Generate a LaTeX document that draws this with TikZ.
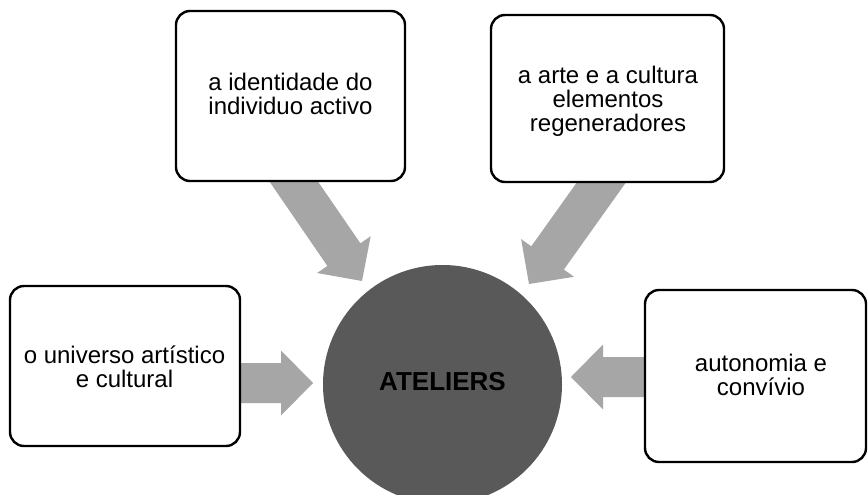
\documentclass[tikz,border=0pt]{standalone}
\usepackage{fontspec}
\setmainfont{Liberation Sans}
\usetikzlibrary{calc}
\definecolor{arrowgray}{HTML}{A6A6A6}
\definecolor{circgray}{HTML}{595959}
\newcommand\blockarrow[3]{%
  \coordinate (#3b) at ($(#2)!32pt!(#1)$);
  \fill[arrowfill] ($(#1)!20pt!90:(#2)$) -- ($(#3b)!20pt!90:(#2)$) --
    ($(#3b)!32.5pt!90:(#2)$) -- (#2) -- ($(#3b)!32.5pt!-90:(#2)$) --
    ($(#3b)!20pt!-90:(#2)$) -- ($(#1)!20pt!-90:(#2)$) -- cycle;}
\begin{document}
\begin{tikzpicture}[x=1pt,y=-1pt,
  arrowfill/.style={fill=arrowgray},
  box/.style={draw=black, line width=2.4pt, rounded corners=14pt, fill=white, inner sep=0pt},
  boxtext/.style={anchor=north, align=center, inner sep=0pt, font=\fontsize{24}{24}\selectfont},
  hub/.style={circle, fill=circgray, draw=none, inner sep=0pt, minimum size=239pt}]
\useasboundingbox (0,0) rectangle (868,495);
\fill[white] (0,0) rectangle (868,495);
% circle
\node[hub] (hub) at (442.5,384.5) {};
\node[anchor=base, inner sep=0pt, font=\fontsize{26}{26}\selectfont\bfseries] (hubtext) at (442.5,390) {ATELIERS};
% arrow end points
\coordinate (s1) at (282.7,165.5); \coordinate (t1) at (362,281);
\coordinate (s2) at (612.6,166.7); \coordinate (t2) at (529,284);
\coordinate (s3) at (225,383);     \coordinate (t3) at (313,383);
\coordinate (s4) at (660,377);     \coordinate (t4) at (571,377);
\blockarrow{s1}{t1}{a1}
\blockarrow{s2}{t2}{a2}
\blockarrow{s3}{t3}{a3}
\blockarrow{s4}{t4}{a4}
% boxes
\node[box, minimum width=229pt, minimum height=170pt] (tl) at (290.5,96) {};
\node[box, minimum width=233pt, minimum height=167pt] (tr) at (607.5,98.5) {};
\node[box, minimum width=230pt, minimum height=160pt] (lb) at (125,366) {};
\node[box, minimum width=221pt, minimum height=172pt] (rb) at (755.5,376) {};
% texts
\node[boxtext] (tltext) at (290.5,70.7) {\rule{0pt}{20pt}a identidade do\\individuo activo};
\node[boxtext] (trtext) at (608,63) {\rule{0pt}{20pt}a arte e a cultura\\elementos\\regeneradores};
\node[boxtext] (lbtext) at (124.5,343.3) {\rule{0pt}{20pt}o universo artístico\\e cultural};
\node[boxtext] (rbtext) at (761,351) {\rule{0pt}{20pt}autonomia e\\convívio};
\end{tikzpicture}
\end{document}
